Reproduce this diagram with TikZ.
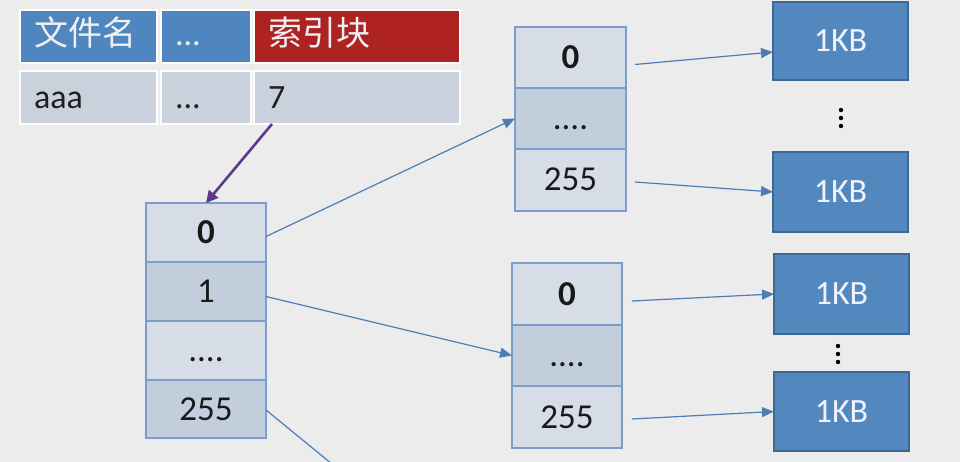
\documentclass[tikz,border=0pt]{standalone}
\usepackage{fontspec}
\setmainfont{Carlito}
\newfontfamily\cjk{Noto Sans CJK SC}
\usetikzlibrary{arrows.meta,calc}
\definecolor{bg}{HTML}{ECECEC}
\definecolor{hblue}{HTML}{4F86BF}
\definecolor{hred}{HTML}{AE2222}
\definecolor{drow}{HTML}{C9D1DC}
\definecolor{clight}{HTML}{D7DDE6}
\definecolor{cdark}{HTML}{C3CEDC}
\definecolor{cborder}{HTML}{7B9DCB}
\definecolor{kbfill}{HTML}{5288BE}
\definecolor{kbborder}{HTML}{3C6898}
\definecolor{conncol}{HTML}{4C7DB5}
\definecolor{purp}{HTML}{5B3A8E}
\begin{document}
\begin{tikzpicture}[x=1pt,y=-1pt,
  tcell/.style={anchor=north west, inner xsep=14pt, inner ysep=0pt, outer sep=0pt,
    minimum height=53pt, align=left, draw=white, line width=1.5pt},
  hcell/.style={tcell, text=white!94!black, font=\fontsize{34}{38}\selectfont,
    text height=24pt, text depth=5pt},
  dcell/.style={tcell, fill=drow, text=black!88, font=\fontsize{34}{38}\selectfont,
    text height=22pt, text depth=0pt},
  blk/.style={anchor=north west, draw=cborder, line width=1.5pt, inner sep=0pt, outer sep=0pt,
    text=black!90, font=\fontsize{35}{38}\selectfont, text height=22pt, text depth=0pt},
  lt/.style={blk, fill=clight},
  dk/.style={blk, fill=cdark},
  kb/.style={anchor=north west, fill=kbfill, draw=kbborder, line width=1.2pt, inner sep=0pt,
    outer sep=0pt, minimum width=135pt, text=white!95!blue, font=\fontsize{34}{36}\selectfont},
  conn/.style={draw=conncol, line width=1.2pt},
  arr/.style={conn, -{Triangle[length=12pt,width=10pt]}},
  parr/.style={draw=purp, line width=2.6pt, -{Triangle[length=12pt,width=12pt]}},
  vdot/.style={fill=black, draw=none}
]
\fill[bg] (0,0) rectangle (960,462);
\useasboundingbox (0,0) rectangle (960,462);

% table
\node[hcell, fill=hblue, text width=109pt] (h1) at (20,10) {\cjk 文件名};
\node[hcell, fill=hblue, text width=62pt] (h2) at (161,10) {...};
\node[hcell, fill=hred, text width=178pt] (h3) at (254,10) {\cjk 索引块};
\node[dcell, text width=109pt] (d1) at (20,71) {aaa};
\node[dcell, text width=62pt] (d2) at (161,71) {...};
\node[dcell, text width=178pt] (d3) at (254,71) {7};

% main index block
\node[lt, minimum width=120pt, minimum height=59pt] (m0) at (146,203) {\bfseries 0};
\node[dk, minimum width=120pt, minimum height=59pt] (m1) at (146,262) {1};
\node[lt, minimum width=120pt, minimum height=59pt] (m2) at (146,321) {....};
\node[dk, minimum width=120pt, minimum height=58pt] (m3) at (146,380) {255};

% upper second-level block
\node[lt, minimum width=111pt, minimum height=61pt] (u0) at (515,27) {\bfseries 0};
\node[dk, minimum width=111pt, minimum height=61pt] (u1) at (515,88) {....};
\node[lt, minimum width=111pt, minimum height=62pt] (u2) at (515,149) {255};

% lower second-level block
\node[lt, minimum width=110pt, minimum height=62pt] (l0) at (512,263) {\bfseries 0};
\node[dk, minimum width=110pt, minimum height=61pt] (l1) at (512,325) {....};
\node[lt, minimum width=110pt, minimum height=62pt] (l2) at (512,386) {255};

% data blocks
\node[kb, minimum height=78pt] (k1) at (773,2) {1KB};
\node[kb, minimum height=80pt] (k2) at (773,152) {1KB};
\node[kb, minimum height=80pt] (k3) at (774,254) {1KB};
\node[kb, minimum height=79pt] (k4) at (774,372) {1KB};

% vertical dots
\foreach \yy in {110,118,126} \fill[vdot] (841,\yy) circle (2.2pt);
\foreach \yy in {346,354,362} \fill[vdot] (838,\yy) circle (2.2pt);

% connectors
\draw[parr] ($(d3.south west)+(18,0)$) -- (m0.north);
\draw[arr] ([yshift=-4pt]m0.east) -- (u1.west);
\draw[arr] ([yshift=-5pt]m1.east) -- (l1.west);
\coordinate (off) at (332,464);
\draw[conn] ([yshift=-1pt]m3.east) -- (off);
\draw[arr] ([xshift=9pt,yshift=-7pt]u0.east) -- ([yshift=-11pt]k1.west);
\draw[arr] ([xshift=9pt,yshift=-2pt]u2.east) -- (k2.west);
\draw[arr] ([xshift=10pt,yshift=-7pt]l0.east) -- (k3.west);
\draw[arr] ([xshift=10pt,yshift=-2pt]l2.east) -- (k4.west);
\end{tikzpicture}
\end{document}
